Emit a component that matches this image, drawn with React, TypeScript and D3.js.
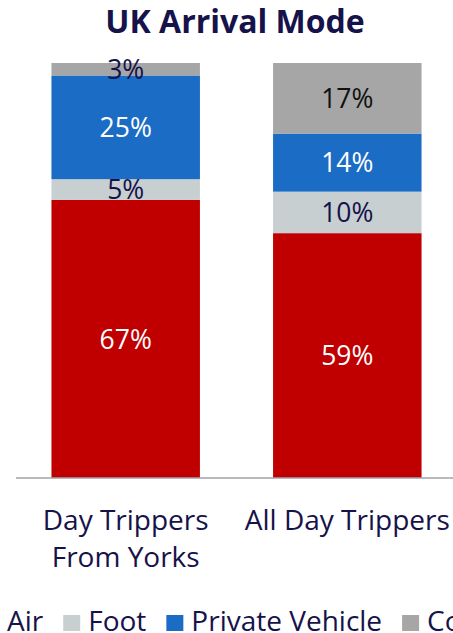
import React, { useEffect, useRef } from "react";
import * as d3 from "d3";

const categories = ["Day Trippers\nFrom Yorks", "All Day Trippers"];
const seriesNames = ["Air", "Foot", "Private Vehicle", "Coach"];
const air = [67, 59];
const foot = [5, 10];
const privateVehicle = [25, 14];
const coach = [3, 17];
const seriesColors = ["#c00000", "#c8cfd1", "#1b6cc4", "#a6a6a6"];
const labelColors = [
  ["#ffffff", "#ffffff"],
  ["#16124a", "#16124a"],
  ["#ffffff", "#ffffff"],
  ["#16124a", "#111111"],
];

const W = 453;
const H = 633;
const FONT = "'Open Sans', sans-serif";

export default function App() {
  const ref = useRef<SVGSVGElement>(null);

  useEffect(() => {
    const svg = d3.select(ref.current);
    svg.selectAll("*").remove();

    const values = [air, foot, privateVehicle, coach];
    const rows = categories.map((c, i) => {
      const r: any = { cat: c };
      seriesNames.forEach((s, j) => (r[s] = values[j][i]));
      return r;
    });
    const stack = d3.stack().keys(seriesNames)(rows);

    const x = d3.scaleBand().domain(categories).range([16, 457]).paddingInner(0.33).paddingOuter(0.16);
    const y = d3.scaleLinear().domain([0, 100]).range([478, 63]);

    // title
    svg
      .append("text")
      .attr("x", 235)
      .attr("y", 33)
      .attr("text-anchor", "middle")
      .attr("font-family", FONT)
      .attr("font-weight", 700)
      .attr("font-size", 32)
      .attr("fill", "#16124a")
      .text("UK Arrival Mode");

    const g = svg.append("g");
    stack.forEach((layer, j) => {
      layer.forEach((d, i) => {
        const cat = categories[i];
        g.append("rect")
          .attr("x", x(cat)!)
          .attr("width", x.bandwidth())
          .attr("y", y(d[1]))
          .attr("height", y(d[0]) - y(d[1]))
          .attr("fill", seriesColors[j]);
      });
    });
    stack.forEach((layer, j) => {
      layer.forEach((d, i) => {
        const cat = categories[i];
        g.append("text")
          .attr("x", x(cat)! + x.bandwidth() / 2)
          .attr("y", (y(d[0]) + y(d[1])) / 2)
          .attr("dy", "0.36em")
          .attr("text-anchor", "middle")
          .attr("font-family", FONT)
          .attr("font-size", 26.5)
          .attr("fill", labelColors[j][i])
          .text(values[j][i] + "%");
      });
    });

    // axis line
    svg
      .append("line")
      .attr("x1", 16)
      .attr("x2", W)
      .attr("y1", 478)
      .attr("y2", 478)
      .attr("stroke", "#a3a3a8")
      .attr("stroke-width", 1.5);

    // category labels
    categories.forEach((c) => {
      const lines = c.split("\n");
      const t = svg
        .append("text")
        .attr("text-anchor", "middle")
        .attr("font-family", FONT)
        .attr("font-size", 28)
        .attr("fill", "#16124a");
      lines.forEach((l, k) => {
        t.append("tspan")
          .attr("x", x(c)! + x.bandwidth() / 2)
          .attr("y", 530 + k * 37)
          .text(l);
      });
    });

    // legend
    const lg = svg.append("g").attr("font-family", FONT).attr("font-size", 28).attr("fill", "#16124a");
    let cx = -18;
    const ly = 631;
    seriesNames.forEach((s, j) => {
      lg.append("rect").attr("x", cx).attr("y", ly - 16).attr("width", 17).attr("height", 16).attr("fill", seriesColors[j]);
      cx += 25;
      const t = lg.append("text").attr("x", cx).attr("y", ly).text(s);
      const w = (t.node() as SVGTextElement).getComputedTextLength();
      cx += w + 20;
    });
  }, []);

  return (
    <svg
      ref={ref}
      width={W}
      height={H}
      style={{ position: "absolute", left: 0, top: 0, background: "#ffffff" }}
    />
  );
}
